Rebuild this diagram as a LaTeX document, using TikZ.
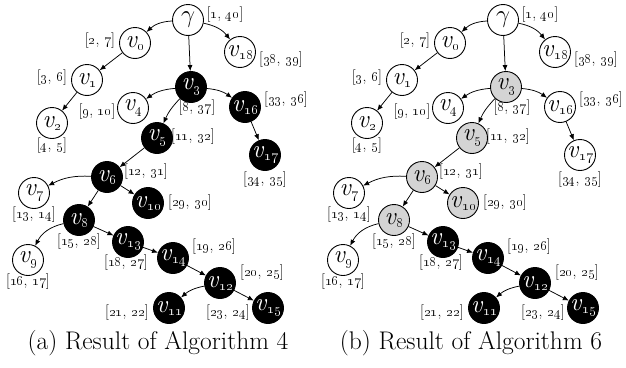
\documentclass[tikz,border=0pt]{standalone}
\usetikzlibrary{arrows.meta}
\newcommand\os[1]{\oldstylenums{#1}}
\newcommand\vn[1]{\textit{v}\raisebox{-3pt}{\fontsize{15}{15}\selectfont\itshape\os{#1}}}
\newcommand\drawtree[1]{%
  \node[wn] (#1g) at (188,-20) {$\gamma$};
  \node[wn] (#1v0) at (135,-43) {\vn{0}};
  \node[wn] (#1v18) at (240,-52) {\vn{18}};
  \node[wn] (#1v1) at (87,-80) {\vn{1}};
  \node[sa] (#1v3) at (191,-87) {\vn{3}};
  \node[wn] (#1v4) at (133,-108) {\vn{4}};
  \node[sc] (#1v16) at (245,-107) {\vn{16}};
  \node[wn] (#1v2) at (52,-123) {\vn{2}};
  \node[sa] (#1v5) at (157,-138) {\vn{5}};
  \node[sc] (#1v17) at (265,-155) {\vn{17}};
  \node[sa] (#1v6) at (107,-177) {\vn{6}};
  \node[wn] (#1v7) at (34,-193) {\vn{7}};
  \node[sa] (#1v10) at (148,-203) {\vn{10}};
  \node[sa] (#1v8) at (79,-220) {\vn{8}};
  \node[sb] (#1v13) at (128,-242) {\vn{13}};
  \node[wn] (#1v9) at (28,-260) {\vn{9}};
  \node[sb] (#1v14) at (173,-258) {\vn{14}};
  \node[sb] (#1v12) at (220,-283) {\vn{12}};
  \node[sb] (#1v11) at (169,-308) {\vn{11}};
  \node[sb] (#1v15) at (268,-308) {\vn{15}};
  %
  \node[lab] (#1l1) at (225,-15) {[\os{1}, \os{40}]};
  \node[lab] (#1l2) at (100,-41) {[\os{2}, \os{7}]};
  \node[lab] (#1l3) at (281,-60) {[\os{38}, \os{39}]};
  \node[lab] (#1l4) at (52,-78) {[\os{3}, \os{6}]};
  \node[lab] (#1l5) at (97,-112) {[\os{9}, \os{10}]};
  \node[lab] (#1l6) at (197,-108) {[\os{8}, \os{37}]};
  \node[lab] (#1l7) at (286,-100) {[\os{33}, \os{36}]};
  \node[lab] (#1l8) at (52,-146) {[\os{4}, \os{5}]};
  \node[lab] (#1l9) at (193,-137) {[\os{11}, \os{32}]};
  \node[lab] (#1l10) at (265,-180) {[\os{34}, \os{35}]};
  \node[lab] (#1l11) at (146,-172) {[\os{12}, \os{31}]};
  \node[lab] (#1l12) at (34,-215) {[\os{13}, \os{14}]};
  \node[lab] (#1l13) at (190,-203) {[\os{29}, \os{30}]};
  \node[lab] (#1l14) at (79,-242) {[\os{15}, \os{28}]};
  \node[lab] (#1l15) at (126,-263) {[\os{18}, \os{27}]};
  \node[lab] (#1l16) at (28,-282) {[\os{16}, \os{17}]};
  \node[lab] (#1l17) at (214,-247) {[\os{19}, \os{26}]};
  \node[lab] (#1l18) at (262,-273) {[\os{20}, \os{25}]};
  \node[lab] (#1l19) at (127,-313) {[\os{21}, \os{22}]};
  \node[lab] (#1l20) at (228,-313) {[\os{23}, \os{24}]};
  %
  \draw[edge] (#1g) to[bend right=20] (#1v0);
  \draw[edge] (#1g) -- (#1v3);
  \draw[edge] (#1g) to[bend left=20] (#1v18);
  \draw[edge] (#1v0) -- (#1v1);
  \draw[edge] (#1v1) -- (#1v2);
  \draw[edge] (#1v3) to[bend right=15] (#1v4);
  \draw[edge] (#1v3) to[bend right=10] (#1v5);
  \draw[edge] (#1v3) to[bend left=15] (#1v16);
  \draw[edge] (#1v16) -- (#1v17);
  \draw[edge] (#1v5) -- (#1v6);
  \draw[edge] (#1v6) to[bend right=15] (#1v7);
  \draw[edge] (#1v6) -- (#1v8);
  \draw[edge] (#1v6) -- (#1v10);
  \draw[edge] (#1v8) to[bend right=25] (#1v9);
  \draw[edge] (#1v8) -- (#1v13);
  \draw[edge] (#1v13) -- (#1v14);
  \draw[edge] (#1v14) -- (#1v12);
  \draw[edge] (#1v12) to[bend right=15] (#1v11);
  \draw[edge] (#1v12) -- (#1v15);
}
\begin{document}
\begin{tikzpicture}[x=1pt,y=1pt,
  wn/.style={circle, draw, line width=0.9pt, minimum size=31pt, inner sep=0pt,
    fill=white, text=black, font=\fontsize{25}{25}\selectfont},
  bn/.style={wn, fill=black, text=white},
  gn/.style={wn, fill=black!17},
  lab/.style={font=\fontsize{15.5}{15.5}\selectfont, inner sep=0pt},
  edge/.style={-{Latex[length=6pt,width=5pt]}, line width=0.75pt},
  captext/.style={font=\fontsize{25.5}{25.5}\selectfont, inner sep=0pt}]
\useasboundingbox (0,0) rectangle (626,-367);
\begin{scope}[sa/.style={bn}, sb/.style={bn}, sc/.style={bn}]
  \drawtree{a}
\end{scope}
\begin{scope}[xshift=315pt, sa/.style={gn}, sb/.style={bn}, sc/.style={wn}]
  \drawtree{b}
\end{scope}
\node[captext] (capa) at (158,-343) {(a) Result of Algorithm 4};
\node[captext] (capb) at (471,-343) {(b) Result of Algorithm 6};
\end{tikzpicture}
\end{document}
